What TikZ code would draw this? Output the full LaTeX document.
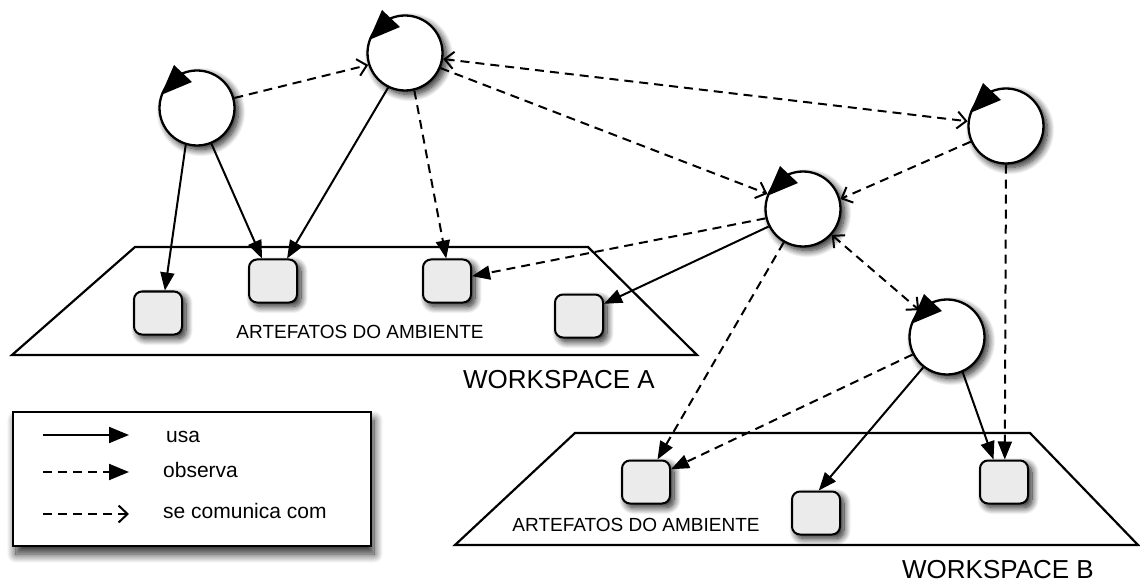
\documentclass[tikz,border=0pt]{standalone}
\usepackage{fontspec}
\setmainfont{Liberation Sans}
\usetikzlibrary{arrows.meta,shadows.blur}
\begin{document}
\begin{tikzpicture}[x=1pt,y=-1pt,
  softshadow/.style={blur shadow={shadow xshift=4pt, shadow yshift=-4pt,
      shadow blur radius=7pt, shadow blur steps=14, shadow opacity=90}},
  agent/.style={circle, draw, line width=2.3pt, fill=white, minimum size=75pt,
      inner sep=0pt, softshadow},
  artifact/.style={rectangle, rounded corners=8pt, draw, line width=2pt,
      fill=black!8, minimum width=48pt, minimum height=43pt, inner sep=0pt,
      softshadow},
  legendbox/.style={rectangle, draw, line width=2pt, fill=white,
      minimum width=358pt, minimum height=134pt, inner sep=0pt,
      blur shadow={shadow xshift=3pt, shadow yshift=-8pt,
      shadow blur radius=9pt, shadow blur steps=14, shadow opacity=85}},
  workspace/.style={draw, line width=2.2pt, line join=miter},
  usa/.style={line width=2pt, -{Triangle[length=18pt,width=14pt]}},
  observa/.style={usa, dash pattern=on 9pt off 6pt},
  comunica/.style={line width=2pt, dash pattern=on 9pt off 6pt,
      -{Straight Barb[length=9pt,width=17pt]}},
  comunica2/.style={line width=2pt, dash pattern=on 9pt off 6pt,
      {Straight Barb[length=9pt,width=17pt]}-{Straight Barb[length=9pt,width=17pt]}},
  artlabel/.style={font=\fontsize{19}{22}\selectfont, inner sep=0pt},
  wslabel/.style={font=\fontsize{26}{30}\selectfont, inner sep=0pt},
  leglabel/.style={font=\fontsize{21}{24}\selectfont, inner sep=0pt, anchor=base west}]

\useasboundingbox (0,0) rectangle (1140,585);

% workspaces
\draw[workspace] (135,247) -- (588,247) -- (697,355) -- (12,355) -- cycle;
\draw[workspace] (575,433) -- (1030,433) -- (1138,545) -- (455,545) -- cycle;

\node[artlabel] (txtA) at (360,332) {ARTEFATOS DO AMBIENTE};
\node[artlabel] (txtB) at (636,525) {ARTEFATOS DO AMBIENTE};
\node[wslabel] (wsA) at (559,380) {WORKSPACE A};
\node[wslabel] (wsB) at (998,570) {WORKSPACE B};

% artifacts
\node[artifact] (a1) at (158,313) {};
\node[artifact] (a2) at (273,281) {};
\node[artifact] (a3) at (447,281) {};
\node[artifact] (a4) at (579,316) {};
\node[artifact] (b1) at (646,482) {};
\node[artifact] (b2) at (816,513) {};
\node[artifact] (b3) at (1004,482) {};

% agents
\node[agent] (A1) at (197,108) {};
\node[agent] (A2) at (405,53) {};
\node[agent] (A3) at (1006,126) {};
\node[agent] (A4) at (803,209) {};
\node[agent] (A5) at (947,337) {};

\foreach \n in {A1,A2,A3,A4,A5}
  \fill ([shift={(-23,-43)}]\n.center) -- ([shift={(-5,-26)}]\n.center)
     -- ([shift={(-36,-13)}]\n.center) -- cycle;

% usa
\draw[usa] (A1.-107) -- (a1.73);
\draw[usa] (A1.-68) -- (a2.116);
\draw[usa] (A2.-116) -- (a2.58);
\draw[usa] (A4.207) -- (a4.26);
\draw[usa] (A5.232) -- (b2.83);
\draw[usa] (A5.-66) -- (b3.115);

% observa
\draw[observa] (A2.-76) -- (a3.92);
\draw[observa] (A4.194) -- (a3.11);
\draw[observa] (A4.-120) -- (b1.63);
\draw[observa] (A5.207) -- (b1.27);
\draw[observa] (A3.-90) -- (b3.88);

% se comunica com
\draw[comunica] (A1.15) -- (A2.198);
\draw[comunica2] (A2.-9) -- (A3.173);
\draw[comunica] (A2.-23) -- (A4.157);
\draw[comunica] (A3.204) -- (A4.15);
\draw[comunica2] (A4.-42) -- (A5.136);

% legend
\node[legendbox] (leg) at (192,479) {};
\coordinate (l1s) at (43,435);  \coordinate (l1e) at (129,435);
\coordinate (l2s) at (43,472);  \coordinate (l2e) at (129,472);
\coordinate (l3s) at (43,514);  \coordinate (l3e) at (129,514);
\draw[usa, -{Triangle[length=20pt,width=16pt]}] (l1s) -- (l1e);
\draw[observa, -{Triangle[length=20pt,width=16pt]}] (l2s) -- (l2e);
\draw[comunica] (l3s) -- (l3e);
\node[leglabel] (lu) at (166,442) {usa};
\node[leglabel] (lo) at (163,477) {observa};
\node[leglabel] (lc) at (163,518) {se comunica com};
\end{tikzpicture}
\end{document}
